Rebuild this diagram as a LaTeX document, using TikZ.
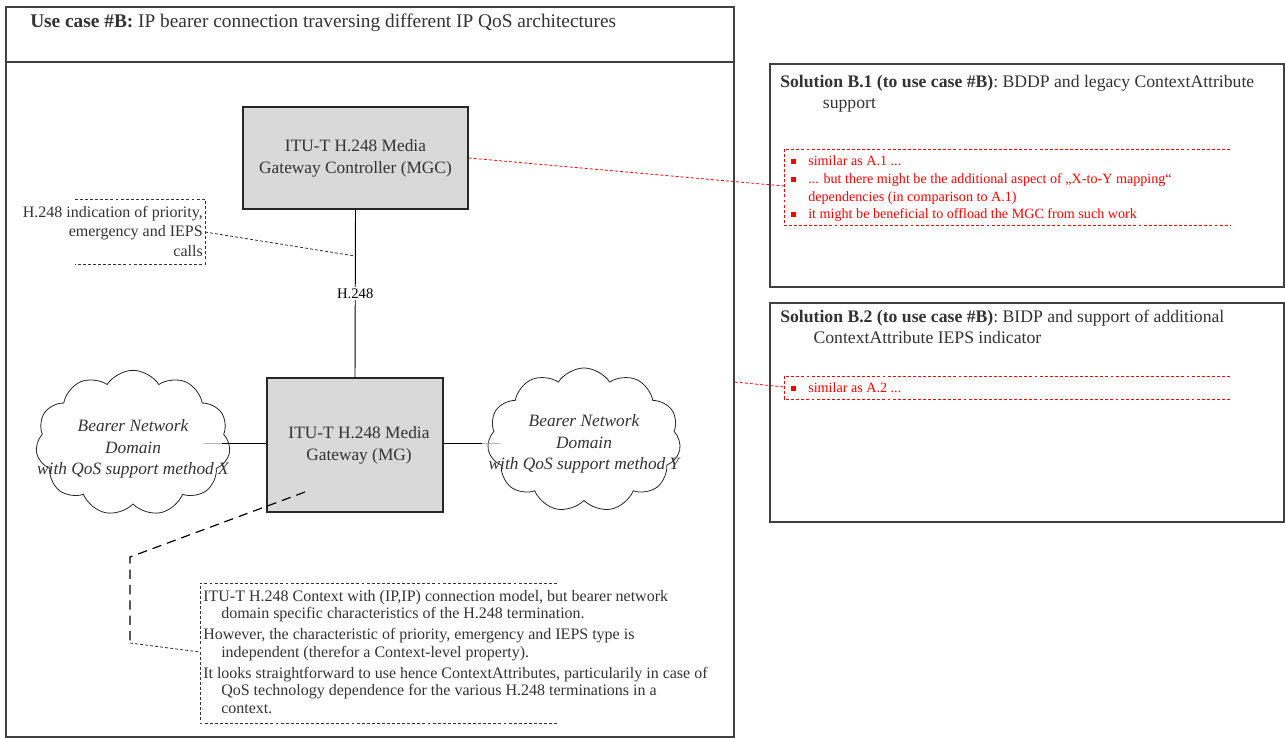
\documentclass[tikz,border=0pt]{standalone}
\usepackage{fontspec}
\setmainfont{Liberation Serif}
\usetikzlibrary{shapes.symbols}
\definecolor{boxgray}{HTML}{D9D9D9}
\definecolor{txt}{HTML}{333333}
\newcommand{\rbul}{\makebox[12.75pt][l]{\rule[1pt]{3.8pt}{3.8pt}}}
\begin{document}
\begin{tikzpicture}[x=0.75pt,y=-0.75pt,
  frame/.style={draw=black!75, line width=0.9pt},
  gbox/.style={draw=black!85, line width=1pt, fill=boxgray, inner sep=0pt, align=center, text=txt, font=\fontsize{13}{16.5}\selectfont},
  thindash/.style={draw=black!80, line width=0.6pt, dash pattern=on 2.2pt off 1.6pt},
  reddash/.style={draw=red, line width=0.6pt, dash pattern=on 2.2pt off 1.6pt},
  thickdash/.style={draw=black, line width=0.9pt, dash pattern=on 7pt off 4.5pt},
  cloudshape/.style={cloud, cloud puffs=11, cloud puff arc=115, draw=black!85, line width=0.6pt, fill=white, inner sep=0pt},
  cloudtxt/.style={align=center, text=txt, font=\fontsize{13}{16}\selectfont\itshape},
  redtxt/.style={align=left, text=red, inner sep=0pt, font=\fontsize{10.6}{13.3}\selectfont},
  soltitle/.style={align=left, text=txt, inner sep=0pt, anchor=north west, font=\fontsize{13.25}{15.8}\selectfont},
  linkline/.style={draw=black, line width=0.7pt}
]
\useasboundingbox[fill=white] (0,0) rectangle (1285,738);

% main frame
\draw[frame] (6,7) rectangle (734,737);
\draw[frame] (6,62) -- (734,62);
\node[anchor=west, inner sep=0pt, text=txt, font=\fontsize{14.5}{17}\selectfont] (title) at (30,22.5)
  {\textbf{Use case \#B:} IP bearer connection traversing different IP QoS architectures};

% solution boxes
\draw[frame] (770,64) rectangle (1284,287);
\draw[frame] (770,303) rectangle (1284,522);
\node[soltitle] (s1) at (780,75)
  {\textbf{Solution B.1 (to use case \#B)}: BDDP and legacy ContextAttribute\\\hspace*{32pt}support};
\node[soltitle] (s2) at (780,310)
  {\textbf{Solution B.2 (to use case \#B)}: BIDP and support of additional\\\hspace*{25pt}ContextAttribute IEPS indicator};

% red dashed lists
\draw[reddash] (1230,149) -- (784,149) -- (784,225) -- (1230,225);
\coordinate (r1) at (784,186);
\node[redtxt, anchor=north west] (l1) at (791,155.5)
  {\rbul similar as A.1 ...\\
   \rbul ... but there might be the additional aspect of „X-to-Y mapping“\\
   \hspace*{12.75pt}dependencies (in comparison to A.1)\\
   \rbul it might be beneficial to offload the MGC from such work};
\draw[reddash] (1230,376) -- (784,376) -- (784,399) -- (1230,399);
\coordinate (r2) at (784,387);
\coordinate (f2) at (735,382);
\node[redtxt, anchor=north west] (l2) at (791,382.5) {\rbul similar as A.2 ...};

% MGC and MG
\node[gbox, minimum width=168.75pt, minimum height=76.5pt] (mgc) at (355.5,158)
  {ITU-T H.248 Media\\Gateway Controller (MGC)};
\node[gbox, minimum width=132pt, minimum height=100.5pt] (mg) at (355,445)
  {\hspace*{6pt}ITU-T H.248 Media\\\hspace*{6pt}Gateway (MG)};

\draw[reddash] (mgc.east) -- (r1);
\draw[reddash] (f2) -- (r2);

% H.248 link
\coordinate (hj) at (355,256);
\draw[linkline] (mgc.south) -- (mg.north)
  node[pos=0.5, fill=white, inner sep=1.5pt, text=black, font=\fontsize{11}{12}\selectfont] (h248) {H.248};

% indication box
\draw[thindash] (75,199) -- (205,199) -- (205,264) -- (75,264);
\coordinate (ib) at (205,232);
\node[anchor=north east, align=right, inner sep=0pt, text=txt, font=\fontsize{12}{14.6}\selectfont] (ind) at (203,206)
  {H.248 indication of priority,\\emergency and IEPS\\calls};
\draw[thindash] (ib) -- (hj);

% clouds
\node[cloudshape, minimum width=146pt, minimum height=109pt] (cl) at (133,443) {};
\node[cloudshape, minimum width=145pt, minimum height=108pt] (cr) at (584,440) {};
\node[cloudtxt] (clt) at (133,449) {Bearer Network\\Domain\\with QoS support method X};
\node[cloudtxt] (crt) at (584,444) {Bearer Network\\Domain\\with QoS support method Y};

\coordinate (la) at (204,443);
\coordinate (lb) at (222,443);
\coordinate (ra) at (482,443);
\coordinate (rb) at (500,443);
\draw[draw=black!30, line width=0.7pt] (la) -- (lb);
\draw[linkline] (lb) -- (lb -| mg.west);
\draw[linkline] (ra -| mg.east) -- (ra);
\draw[draw=black!30, line width=0.7pt] (ra) -- (rb);

% MG annotation
\coordinate (m0) at (305,492);
\coordinate (m1) at (130,557);
\coordinate (m2) at (130,643);
\coordinate (m3) at (200,652);
\draw[thickdash] (m0) -- (m1) -- (m2);
\draw[thindash] (m2) -- (m3);
\draw[thindash] (557,583) -- (200,583) -- (200,723) -- (557,723);
\node[anchor=north west, align=left, inner sep=0pt, text=txt, font=\fontsize{12}{13.1}\selectfont] (ctx) at (203,590)
  {ITU-T H.248 Context with (IP,IP) connection model, but bearer network\\
   \hspace*{13.5pt}domain specific characteristics of the H.248 termination.\\[2.6pt]
   However, the characteristic of priority, emergency and IEPS type is\\
   \hspace*{13.5pt}independent (therefor a Context-level property).\\[2.6pt]
   It looks straightforward to use hence ContextAttributes, particularily in case of\\
   \hspace*{13.5pt}QoS technology dependence for the various H.248 terminations in a\\
   \hspace*{13.5pt}context.};
\end{tikzpicture}
\end{document}
